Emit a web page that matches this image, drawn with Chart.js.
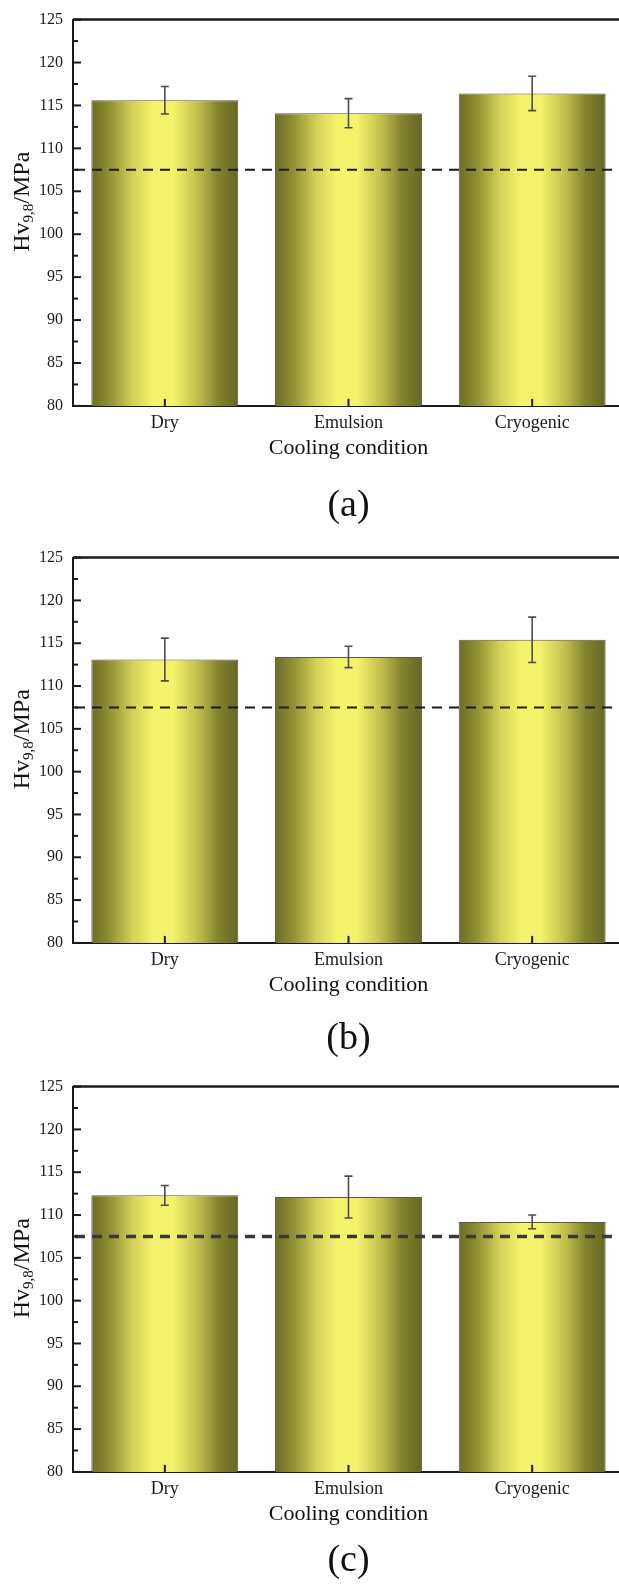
<!DOCTYPE html>
<html>
<head>
<meta charset="utf-8">
<script src="https://cdn.jsdelivr.net/npm/chart.js@4.4.0/dist/chart.umd.min.js"></script>
<style>
html, body { margin: 0; padding: 0; background: #fff; overflow: hidden; width: 619px; height: 1586px; }
canvas { position: absolute; left: 0; }
</style>
</head>
<body>
<canvas id="chartA" width="624" height="530" style="top:0px"></canvas>
<canvas id="chartB" width="624" height="530" style="top:538px"></canvas>
<canvas id="chartC" width="624" height="530" style="top:1067px"></canvas>
<script>
// values (Hv 9,8 in MPa)
var categories = ['Dry', 'Emulsion', 'Cryogenic'];
var hardnessA = [115.6, 114.1, 116.4];
var errorA = [1.6, 1.7, 2.0];
var hardnessB = [113.1, 113.4, 115.4];
var errorB = [2.5, 1.25, 2.65];
var hardnessC = [112.3, 112.1, 109.2];
var errorC = [1.15, 2.45, 0.8];
var referenceHv = 107.5;
var yMin = 80, yMax = 125, yStep = 5;
var captions = ['(a)', '(b)', '(c)'];

var serif = "'Liberation Serif', 'Times New Roman', serif";

function barFill(ctx) {
  if (ctx.type !== 'data' || !ctx.chart.scales.x) return '#d8d75a';
  var xs = ctx.chart.scales.x;
  var cx = xs.getPixelForValue(ctx.dataIndex);
  var half = xs.width / categories.length * 0.8 / 2;
  if (!isFinite(cx) || !isFinite(half) || half <= 0) return '#d8d75a';
  var g = ctx.chart.ctx.createLinearGradient(cx - half, 0, cx + half, 0);
  g.addColorStop(0, '#6c6c26');
  g.addColorStop(0.12, '#8e8e33');
  g.addColorStop(0.28, '#d2d158');
  g.addColorStop(0.42, '#f4f36c');
  g.addColorStop(0.56, '#f3f26a');
  g.addColorStop(0.72, '#c2c14e');
  g.addColorStop(0.86, '#84842f');
  g.addColorStop(1, '#666622');
  return g;
}

var framePlugin = {
  id: 'hvFrame',
  afterDatasetsDraw: function(chart, args, opts) {
    var c = chart.ctx, a = chart.chartArea;
    var y = chart.scales.y;
    var ds = chart.data.datasets[0];
    var meta = chart.getDatasetMeta(0);
    c.save();

    // error bars
    c.strokeStyle = '#4d4d4d';
    c.lineWidth = 1.6;
    meta.data.forEach(function(bar, i) {
      var top = y.getPixelForValue(ds.data[i] + ds.errors[i]);
      var bot = y.getPixelForValue(ds.data[i] - ds.errors[i]);
      c.beginPath();
      c.moveTo(bar.x, top); c.lineTo(bar.x, bot);
      c.moveTo(bar.x - 4, top); c.lineTo(bar.x + 4, top);
      c.moveTo(bar.x - 4, bot); c.lineTo(bar.x + 4, bot);
      c.stroke();
    });

    // dashed reference line
    var ry = y.getPixelForValue(referenceHv);
    c.strokeStyle = opts.refColor;
    c.lineWidth = opts.refWidth;
    c.setLineDash([10, 7]);
    c.beginPath(); c.moveTo(a.left + 2, ry); c.lineTo(a.right, ry); c.stroke();
    c.setLineDash([]);

    // top frame
    c.strokeStyle = '#1a1a1a';
    c.lineWidth = 2.5;
    c.beginPath(); c.moveTo(a.left, a.top); c.lineTo(a.right, a.top); c.stroke();

    // inward ticks, major and minor
    c.lineWidth = 2;
    for (var v = yMin; v <= yMax; v += yStep / 2) {
      var py = y.getPixelForValue(v);
      var len = (v % yStep === 0) ? 8 : 5;
      c.beginPath(); c.moveTo(a.left, py); c.lineTo(a.left + len, py); c.stroke();
    }
    meta.data.forEach(function(bar) {
      c.beginPath(); c.moveTo(bar.x, a.bottom); c.lineTo(bar.x, a.bottom - 7); c.stroke();
    });
    c.restore();
  },
  afterDraw: function(chart) {
    // y title with subscript: Hv9,8/MPa
    var c = chart.ctx, a = chart.chartArea;
    var big = '24px ' + serif, small = '15px ' + serif;
    c.save();
    c.font = big;
    var w1 = c.measureText('Hv').width, w3 = c.measureText('/MPa').width;
    c.font = small;
    var w2 = c.measureText('9,8').width;
    var total = w1 + w2 + w3;
    c.translate(29, (a.top + a.bottom) / 2 - 11);
    c.rotate(-Math.PI / 2);
    c.fillStyle = '#111';
    c.textBaseline = 'alphabetic';
    c.textAlign = 'left';
    var x0 = -total / 2;
    c.font = big; c.fillText('Hv', x0, 0);
    c.font = small; c.fillText('9,8', x0 + w1, 4);
    c.font = big; c.fillText('/MPa', x0 + w1 + w2, 0);
    c.restore();
  }
};

function makeChart(id, values, errors, caption, padTop, padBottom, refColor, refWidth) {
  var ctx = document.getElementById(id).getContext('2d');
  return new Chart(ctx, {
    type: 'bar',
    data: {
      labels: categories,
      datasets: [{
        data: values,
        errors: errors,
        backgroundColor: barFill,
        borderColor: 'rgba(60,60,40,0.85)',
        borderWidth: 1,
        barPercentage: 0.8,
        categoryPercentage: 1.0
      }]
    },
    options: {
      responsive: false,
      animation: false,
      layout: { padding: { top: 16, left: 0, right: 0, bottom: 0 } },
      plugins: {
        legend: { display: false },
        tooltip: { enabled: false },
        title: {
          display: true,
          text: caption,
          position: 'bottom',
          fullSize: false,
          color: '#111',
          font: { family: serif, size: 38, weight: 'normal' },
          padding: { top: padTop, bottom: padBottom }
        },
        hvFrame: { refColor: refColor, refWidth: refWidth }
      },
      scales: {
        x: {
          grid: { display: false, drawTicks: false },
          border: { display: true, color: '#1a1a1a', width: 2 },
          ticks: { color: '#1a1a1a', font: { family: serif, size: 18 }, padding: 7 },
          title: { display: true, text: 'Cooling condition', color: '#111', font: { family: serif, size: 22 }, padding: 0 },
          afterFit: function(s) { s.height = 56; }
        },
        y: {
          min: yMin,
          max: yMax,
          grid: { display: false, drawTicks: false },
          border: { display: true, color: '#1a1a1a', width: 2 },
          ticks: { stepSize: yStep, color: '#1a1a1a', font: { family: serif, size: 16 }, padding: 10 },
          afterFit: function(s) { s.width = 73; }
        }
      }
    },
    plugins: [framePlugin]
  });
}

makeChart('chartA', hardnessA, errorA, captions[0], 21, 1.5, '#1a1a1a', 2);
makeChart('chartB', hardnessB, errorB, captions[1], 17, 6.5, '#1a1a1a', 2);
makeChart('chartC', hardnessC, errorC, captions[2], 10, 13.5, '#3a3a3a', 3.5);
</script>
</body>
</html>
